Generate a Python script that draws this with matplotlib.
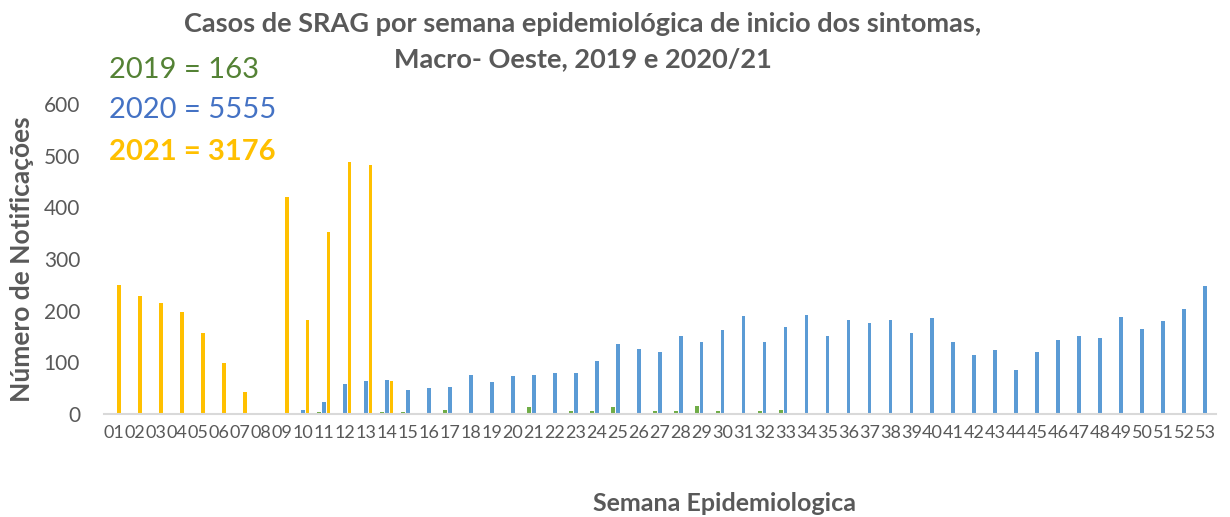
import matplotlib.pyplot as plt
import numpy as np

plt.rcParams['font.family'] = ['Lato', 'DejaVu Sans']

semanas = ['%02d' % i for i in range(1, 54)]

casos_2019 = [0, 1, 1, 1, 0, 0, 0, 0, 0, 1, 4, 1, 0, 4, 4, 1, 7, 0, 1, 3,
              13, 3, 6, 6, 13, 3, 6, 6, 15, 6, 1, 6, 7, 3, 1, 2, 3, 2, 3, 1,
              0, 0, 0, 0, 0, 0, 0, 0, 0, 0, 0, 0, 0]
casos_2020 = [0, 0, 2, 2, 0, 0, 0, 0, 0, 7, 24, 59, 64, 66, 46, 50, 52, 76, 63, 73,
              75, 80, 79, 103, 135, 125, 121, 152, 140, 162, 190, 140, 168, 192, 151, 183, 176, 183, 157, 186,
              139, 114, 124, 85, 120, 143, 151, 148, 188, 164, 181, 204, 248]
casos_2021 = [250, 229, 214, 198, 156, 98, 43, 0, 420, 182, 353, 487, 482, 64] + [0] * 39

totais = ['2019 = 163', '2020 = 5555', '2021 = 3176']
cores = ['#70AD47', '#5B9BD5', '#FFC000']
cores_txt = ['#548235', '#4472C4', '#FFC000']

cinza = '#595959'

fig = plt.figure(figsize=(12.3, 5.17), dpi=100)
ax = fig.add_axes([0.0843, 0.199, 0.904, 0.600])

x = np.arange(1, 54)
w = 0.18
off = 0.22
ax.bar(x - off, casos_2019, w, color=cores[0])
ax.bar(x, casos_2020, w, color=cores[1])
ax.bar(x + off, casos_2021, w, color=cores[2])

ax.set_xlim(0.5, 53.5)
ax.set_ylim(0, 600)
ax.set_xticks(x)
ax.set_xticklabels(semanas, fontsize=13, color=cinza)
ax.set_yticks(range(0, 601, 100))
ax.tick_params(axis='y', length=0, pad=17, labelsize=15, labelcolor=cinza)
ax.tick_params(axis='x', length=0, pad=8)

for s in ['top', 'right', 'left']:
    ax.spines[s].set_visible(False)
ax.spines['bottom'].set_color('#D9D9D9')
ax.spines['bottom'].set_linewidth(1.5)

ax.set_ylabel('Número de Notificações', fontsize=19, fontweight='bold', color=cinza, labelpad=7)
fig.text(0.589, 0.027, 'Semana Epidemiologica', fontsize=18, fontweight='bold',
         color=cinza, ha='center', va='center')

fig.text(0.474, 0.953, 'Casos de SRAG por semana epidemiológica de inicio dos sintomas,',
         fontsize=19.5, fontweight='bold', color=cinza, ha='center', va='center')
fig.text(0.474, 0.886, 'Macro- Oeste, 2019 e 2020/21',
         fontsize=19.5, fontweight='bold', color=cinza, ha='center', va='center')

ys = [0.864, 0.787, 0.706]
for t, c, yy, fw in zip(totais, cores_txt, ys, ['normal', 'normal', 'bold']):
    fig.text(0.089, yy, t, fontsize=21, color=c, fontweight=fw, ha='left', va='center')

fig.savefig('out.png', dpi=100)
